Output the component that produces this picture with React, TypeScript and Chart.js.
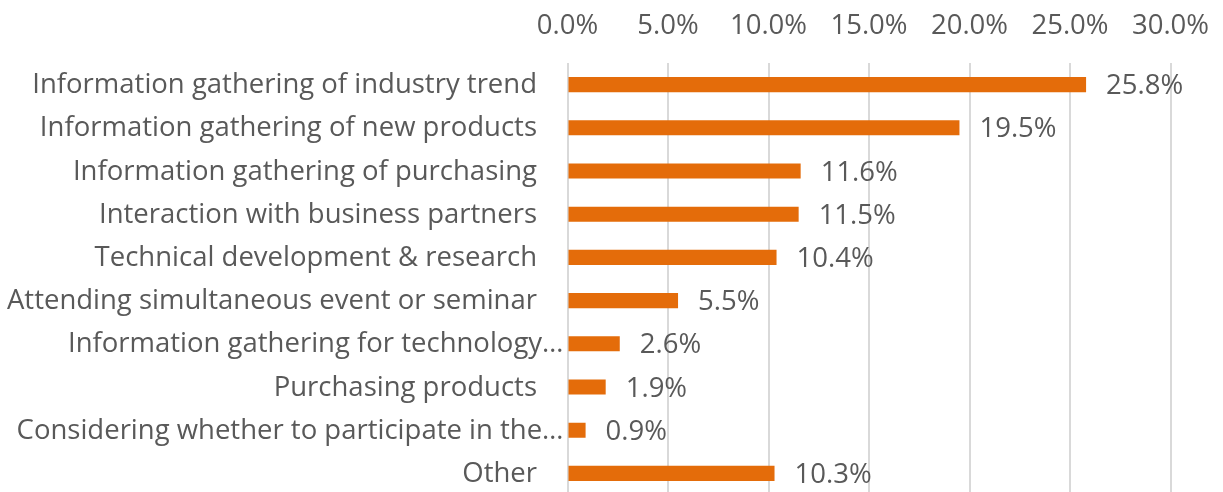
import React, { useEffect, useRef } from "react";
import { Chart, registerables } from "chart.js";

Chart.register(...registerables);

const categories = [
  "Information gathering of industry trend",
  "Information gathering of new products",
  "Information gathering of purchasing",
  "Interaction with business partners",
  "Technical development & research",
  "Attending simultaneous event or seminar",
  "Information gathering for technology…",
  "Purchasing products",
  "Considering whether to participate in the…",
  "Other",
];
const values = [25.8, 19.5, 11.6, 11.5, 10.4, 5.5, 2.6, 1.9, 0.9, 10.3];
const xMin = 0;
const xMax = 30;
const xStep = 5;

const FONT = "'Open Sans', sans-serif";
const FONT_SIZE = 27.5;
const TEXT = "#595959";

const labelPlugin = {
  id: "barLabels",
  afterDatasetsDraw(chart: any) {
    const ctx = chart.ctx;
    const meta = chart.getDatasetMeta(0);
    const yScale = chart.scales.y;
    const left = chart.chartArea.left;
    ctx.save();
    ctx.font = `${FONT_SIZE}px ${FONT}`;
    ctx.fillStyle = TEXT;
    ctx.textBaseline = "alphabetic";
    // value labels
    ctx.textAlign = "left";
    meta.data.forEach((bar: any, i: number) => {
      ctx.fillText(values[i].toFixed(1) + "%", bar.x + 20, bar.y + 9.5);
    });
    // category labels
    ctx.textAlign = "right";
    categories.forEach((c, i) => {
      const y = yScale.getPixelForValue(i);
      const truncated = c.endsWith("…");
      ctx.fillText(c, truncated ? left - 4 : left - 30.5, y + 8.5);
    });
    ctx.restore();
  },
};

export default function App() {
  const ref = useRef<HTMLCanvasElement>(null);
  useEffect(() => {
    if (!ref.current) return;
    const chart = new Chart(ref.current, {
      type: "bar",
      data: {
        labels: categories,
        datasets: [
          {
            data: values,
            backgroundColor: "#E46C0A",
            barPercentage: 0.7,
            categoryPercentage: 0.5,
          },
        ],
      },
      options: {
        indexAxis: "y",
        animation: false,
        responsive: false,
        maintainAspectRatio: false,
        layout: { padding: { left: 0, right: 52.5, top: 0, bottom: 5 } },
        plugins: { legend: { display: false }, tooltip: { enabled: false } },
        scales: {
          x: {
            position: "top",
            min: xMin,
            max: xMax,
            ticks: {
              stepSize: xStep,
              padding: 20,
              color: TEXT,
              font: { family: FONT, size: FONT_SIZE },
              callback: (v: any) => Number(v).toFixed(1) + "%",
            },
            grid: { color: "#D9D9D9", lineWidth: 2, drawTicks: false },
            border: { display: false },
            afterFit: (s: any) => {
              s.height = 63;
              s.paddingLeft = 0;
              s.paddingRight = 0;
            },
          },
          y: {
            ticks: { display: false, autoSkip: false },
            grid: { display: false, drawTicks: false },
            border: { display: false },
            afterFit: (s: any) => {
              s.width = 567.5;
              s.paddingTop = 0;
              s.paddingBottom = 0;
            },
          },
        },
      },
      plugins: [labelPlugin],
    });
    return () => chart.destroy();
  }, []);
  return (
    <div style={{ position: "absolute", left: 0, top: 0, width: 1223, height: 492, overflow: "hidden", background: "#fff" }}>
      <canvas ref={ref} width={1223} height={500} style={{ display: "block" }} />
    </div>
  );
}
